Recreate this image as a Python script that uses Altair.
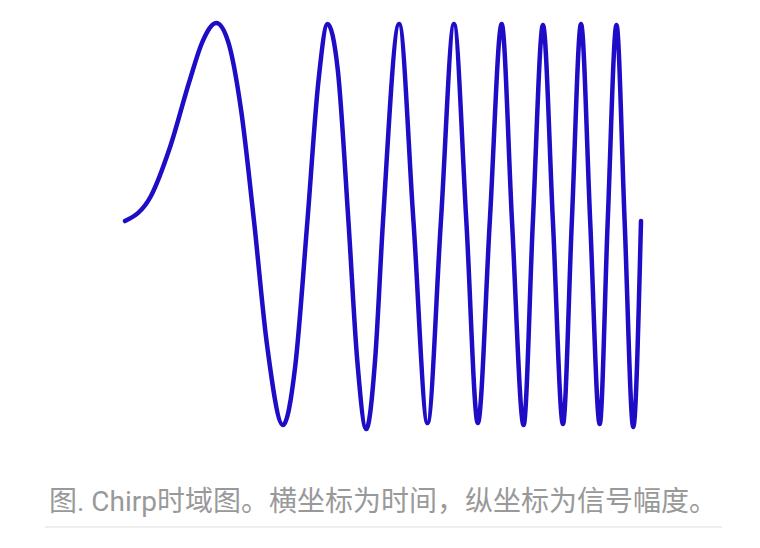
import altair as alt
import pandas as pd

# Chirp signal samples (time, amplitude)
times = [0.0, 0.2, 0.35, 0.5, 0.6, 0.707, 0.8, 0.9, 1.0, 1.1, 1.225, 1.32, 1.414,
         1.5, 1.57, 1.65, 1.732, 1.8, 1.87, 1.94, 2.0,
         2.125, 2.236, 2.345, 2.449, 2.55, 2.646, 2.735, 2.828,
         2.92, 3.0, 3.09, 3.162, 3.24, 3.317, 3.395, 3.464,
         3.535, 3.606, 3.68, 3.742, 3.81, 3.873, 3.94, 4.0]
amps = [0.0, 0.125, 0.375, 0.707, 0.905, 1.0, 0.905, 0.56, 0.0, -0.62, -1.03, -0.73, 0.0,
        0.71, 0.995, 0.76, 0.0, -0.70, -1.05, -0.69, 0.0,
        0.995, 0.0, -1.02, 0.0, 0.995, 0.0, -1.02, 0.0,
        0.995, 0.0, -1.03, 0.0, 0.99, 0.0, -1.025, 0.0,
        0.995, 0.0, -1.025, 0.0, 0.99, 0.0, -1.04, 0.0]

caption = ["图. Chirp时域图。横坐标为时间，纵坐标为信号幅度。"]

df = pd.DataFrame({"t": times, "a": amps})

line = alt.Chart(df).mark_line(
    color="#1e0cc6", strokeWidth=4.5, interpolate="monotone", strokeCap="round"
).encode(
    x=alt.X("t:Q", axis=None,
            scale=alt.Scale(domain=[0, 4], range=[125, 641], nice=False, zero=False)),
    y=alt.Y("a:Q", axis=None,
            scale=alt.Scale(domain=[-1.06, 1.0], range=[431, 23], nice=False, zero=False)),
)

text = alt.Chart(pd.DataFrame({"c": caption})).mark_text(
    align="left", baseline="alphabetic", fontSize=28, color="#999999",
    font="Roboto, Noto Sans CJK SC"
).encode(x=alt.value(49), y=alt.value(511), text="c:N")

rule = alt.Chart(pd.DataFrame({"c": caption})).mark_rule(
    color="#dddddd", strokeWidth=1
).encode(x=alt.value(45), x2=alt.value(722), y=alt.value(527))

chart = alt.layer(line, text, rule).properties(
    width=760, height=548, autosize=alt.AutoSizeParams(type="none"), padding=0
).configure_view(stroke=None)

chart.save("out.html", embed_options={"renderer": "svg", "actions": False})
